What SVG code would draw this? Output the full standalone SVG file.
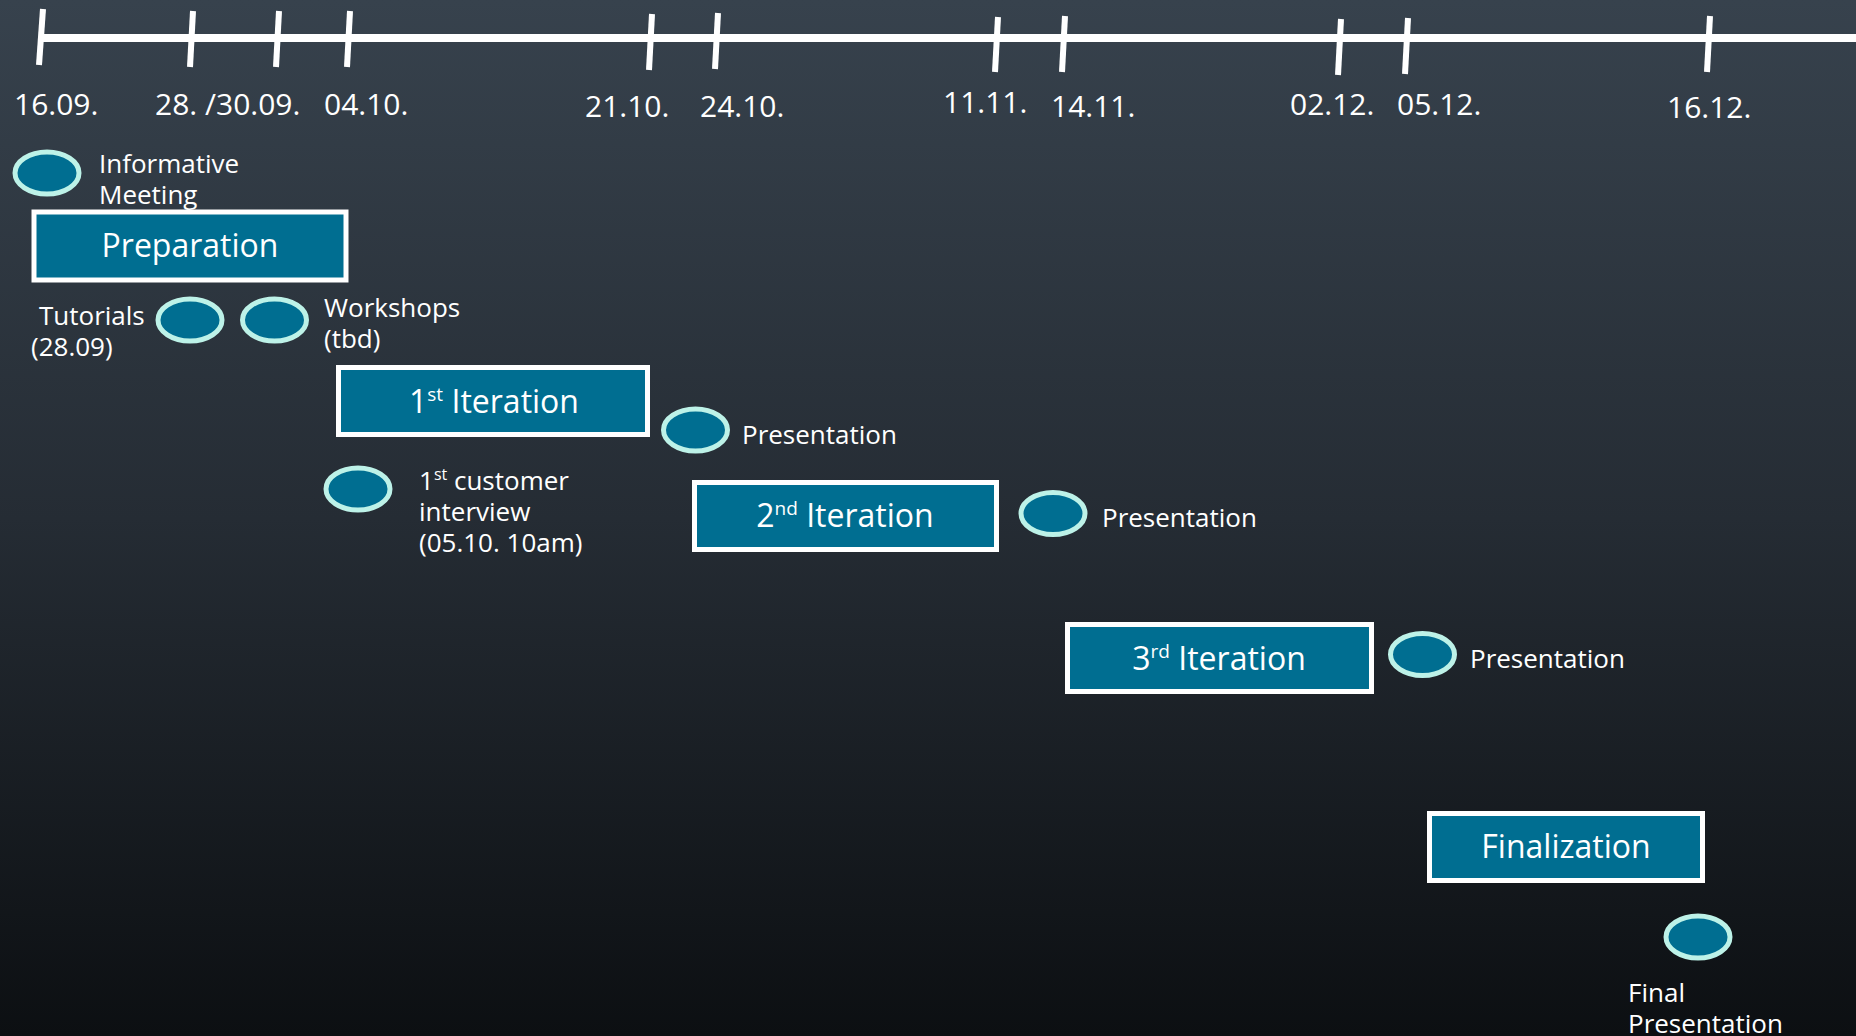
<svg xmlns="http://www.w3.org/2000/svg" width="1856" height="1036" viewBox="0 0 1856 1036">
<defs>
<linearGradient id="bg" x1="0" y1="0" x2="0" y2="1">
<stop offset="0" stop-color="#37424D"/>
<stop offset="0.5" stop-color="#252C34"/>
<stop offset="1" stop-color="#0C0F12"/>
</linearGradient>
<style>
.box{fill:#006E91;stroke:#FFFFFF;stroke-width:5}
.dot{fill:#006E91;stroke:#BDF2E8;stroke-width:5}
.bt{font-family:"Open Sans","Noto Sans",sans-serif;font-size:32px;fill:#FFFFFF;text-anchor:middle}
.lb{font-family:"Open Sans","Noto Sans",sans-serif;font-size:26px;fill:#FFFFFF}
.dt{font-family:"Open Sans","Noto Sans",sans-serif;font-size:30px;fill:#FFFFFF}
.ax{stroke:#FFFFFF;stroke-width:8;fill:none}
.tk{stroke:#FFFFFF;stroke-width:6;fill:none}
</style>
</defs>
<rect x="0" y="0" width="1856" height="1036" fill="url(#bg)"/>

<g id="timeline">
<line class="ax" x1="39" y1="38" x2="1856" y2="38"/>
<line class="tk" x1="43" y1="9" x2="39" y2="65"/>
<line class="tk" x1="193" y1="11" x2="190" y2="67"/>
<line class="tk" x1="279" y1="11" x2="276" y2="67"/>
<line class="tk" x1="350" y1="11" x2="347" y2="67"/>
<line class="tk" x1="652" y1="14" x2="649" y2="70"/>
<line class="tk" x1="718" y1="13" x2="715" y2="69"/>
<line class="tk" x1="998" y1="17" x2="995" y2="72"/>
<line class="tk" x1="1065" y1="16" x2="1062" y2="72"/>
<line class="tk" x1="1341" y1="19" x2="1338" y2="75"/>
<line class="tk" x1="1408" y1="18" x2="1405" y2="74"/>
<line class="tk" x1="1710" y1="16" x2="1707" y2="72"/>
<text class="dt" x="14" y="115">16.09.</text>
<text class="dt" x="155" y="115">28. /30.09.</text>
<text class="dt" x="324" y="115">04.10.</text>
<text class="dt" x="585" y="117">21.10.</text>
<text class="dt" x="700" y="117">24.10.</text>
<text class="dt" x="943" y="113">11.11.</text>
<text class="dt" x="1051" y="117">14.11.</text>
<text class="dt" x="1290" y="115">02.12.</text>
<text class="dt" x="1397" y="115">05.12.</text>
<text class="dt" x="1667" y="118">16.12.</text>
</g>

<g id="informative-meeting">
<ellipse class="dot" cx="47" cy="173" rx="32" ry="21"/>
<text class="lb" x="99" y="173">Informative</text>
<text class="lb" x="99" y="204">Meeting</text>
</g>

<g id="preparation">
<rect class="box" x="34" y="212" width="312" height="68"/>
<text class="bt" x="190" y="257">Preparation</text>
</g>

<g id="tutorials">
<ellipse class="dot" cx="190" cy="320" rx="32" ry="21"/>
<text class="lb" x="39" y="325">Tutorials</text>
<text class="lb" x="31" y="356">(28.09)</text>
</g>

<g id="workshops">
<ellipse class="dot" cx="274.5" cy="320" rx="32" ry="21"/>
<text class="lb" x="324" y="317">Workshops</text>
<text class="lb" x="324" y="348">(tbd)</text>
</g>

<g id="iteration-1">
<rect class="box" x="338.5" y="367.5" width="309" height="67"/>
<text class="bt" x="494" y="413">1<tspan font-size="19" dy="-12">st</tspan><tspan dy="12"> Iteration</tspan></text>
</g>

<g id="presentation-1">
<ellipse class="dot" cx="695.5" cy="430" rx="32" ry="21"/>
<text class="lb" x="742" y="444">Presentation</text>
</g>

<g id="customer-interview">
<ellipse class="dot" cx="358" cy="489" rx="32" ry="21"/>
<text class="lb" x="419" y="490">1<tspan font-size="16" dy="-10">st</tspan><tspan dy="10"> customer</tspan></text>
<text class="lb" x="419" y="521">interview</text>
<text class="lb" x="419" y="552">(05.10. 10am)</text>
</g>

<g id="iteration-2">
<rect class="box" x="694.5" y="482.5" width="302" height="67"/>
<text class="bt" x="845" y="527">2<tspan font-size="19" dy="-12">nd</tspan><tspan dy="12"> Iteration</tspan></text>
</g>

<g id="presentation-2">
<ellipse class="dot" cx="1053" cy="513.5" rx="32" ry="21"/>
<text class="lb" x="1102" y="527">Presentation</text>
</g>

<g id="iteration-3">
<rect class="box" x="1067.5" y="624.5" width="304" height="67"/>
<text class="bt" x="1219" y="670">3<tspan font-size="19" dy="-12">rd</tspan><tspan dy="12"> Iteration</tspan></text>
</g>

<g id="presentation-3">
<ellipse class="dot" cx="1422.5" cy="654.5" rx="32" ry="21"/>
<text class="lb" x="1470" y="668">Presentation</text>
</g>

<g id="finalization">
<rect class="box" x="1429.5" y="813.5" width="273" height="67"/>
<text class="bt" x="1566" y="858">Finalization</text>
</g>

<g id="final-presentation">
<ellipse class="dot" cx="1698" cy="937" rx="32" ry="21"/>
<text class="lb" x="1628" y="1002">Final</text>
<text class="lb" x="1628" y="1033">Presentation</text>
</g>
</svg>
